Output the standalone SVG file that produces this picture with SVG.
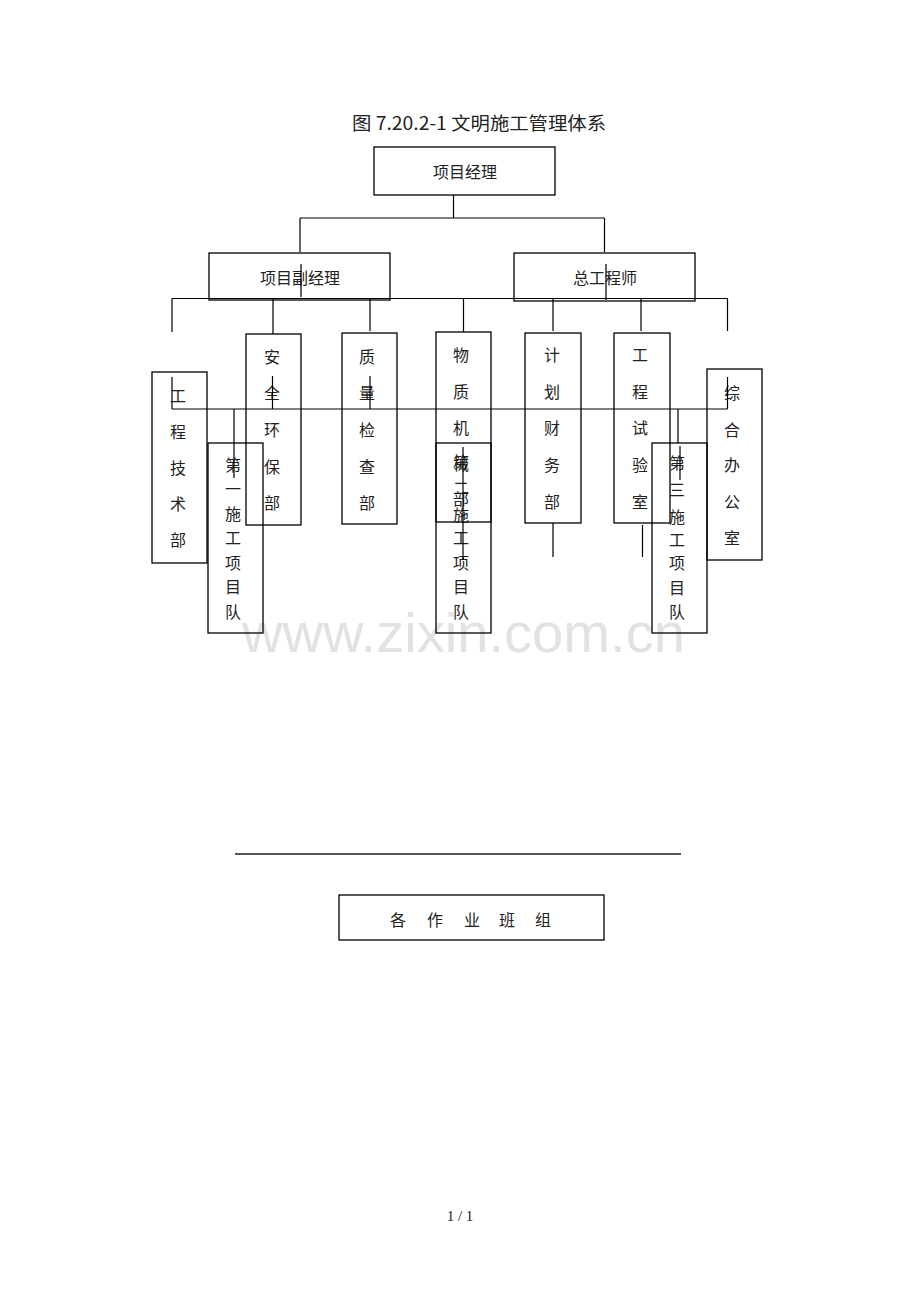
<svg xmlns="http://www.w3.org/2000/svg" width="920" height="1302" viewBox="0 0 920 1302">
<style>
.bg{fill:#ffffff}
.box{fill:none;stroke:#000;stroke-width:1.3}
.ln{stroke:#000;stroke-width:1.2;fill:none}
.t{font-family:"Noto Sans CJK SC","Noto Sans",sans-serif;font-size:16px;fill:#222;text-anchor:middle}
.title{font-family:"Noto Sans CJK SC","Noto Sans",sans-serif;font-size:18px;fill:#222}
.wm{font-family:"Liberation Sans",Arial,sans-serif;font-size:56px;fill:#e2e2e2}
.pg{font-family:"Liberation Serif","Times New Roman",serif;font-size:15px;fill:#222;text-anchor:middle}
</style>
<rect class="bg" x="0" y="0" width="920" height="1302"/>
<text class="wm" x="242" y="652" textLength="443" lengthAdjust="spacingAndGlyphs">www.zixin.com.cn</text>
<text class="title" x="352" y="130" textLength="254" lengthAdjust="spacingAndGlyphs">图 7.20.2-1 文明施工管理体系</text>

<g id="node-pm"><rect class="box" x="374" y="147" width="181" height="48"/><text class="t" x="465" y="178">项目经理</text></g>
<g id="node-dpm"><rect class="box" x="209" y="253" width="181" height="47"/><text class="t" x="300" y="284">项目副经理</text></g>
<g id="node-ce"><rect class="box" x="514" y="253" width="181" height="48"/><text class="t" x="605" y="284">总工程师</text></g>

<g id="node-gcjs"><rect class="box" x="152" y="372" width="55" height="191"/><text class="t"><tspan x="178" y="402">工</tspan><tspan x="178" y="438">程</tspan><tspan x="178" y="474">技</tspan><tspan x="178" y="510">术</tspan><tspan x="178" y="546">部</tspan></text></g>
<g id="node-aq"><rect class="box" x="246" y="334" width="55" height="191"/><text class="t"><tspan x="272" y="363">安</tspan><tspan x="272" y="399">全</tspan><tspan x="272" y="436">环</tspan><tspan x="272" y="473">保</tspan><tspan x="272" y="509">部</tspan></text></g>
<g id="node-zl"><rect class="box" x="342" y="333" width="55" height="191"/><text class="t"><tspan x="367" y="363">质</tspan><tspan x="367" y="399">量</tspan><tspan x="367" y="436">检</tspan><tspan x="367" y="473">查</tspan><tspan x="367" y="509">部</tspan></text></g>
<g id="node-wz"><rect class="box" x="436" y="332" width="55" height="190"/><text class="t"><tspan x="461" y="361">物</tspan><tspan x="461" y="398">质</tspan><tspan x="461" y="434">机</tspan><tspan x="461" y="470">械</tspan><tspan x="461" y="505">部</tspan></text></g>
<g id="node-jh"><rect class="box" x="525" y="333" width="56" height="190"/><text class="t"><tspan x="552" y="361">计</tspan><tspan x="552" y="398">划</tspan><tspan x="552" y="434">财</tspan><tspan x="552" y="471">务</tspan><tspan x="552" y="508">部</tspan></text></g>
<g id="node-sy"><rect class="box" x="614" y="333" width="56" height="190"/><text class="t"><tspan x="640" y="361">工</tspan><tspan x="640" y="398">程</tspan><tspan x="640" y="434">试</tspan><tspan x="640" y="471">验</tspan><tspan x="640" y="508">室</tspan></text></g>
<g id="node-zh"><rect class="box" x="707" y="369" width="55" height="191"/><text class="t"><tspan x="732" y="399">综</tspan><tspan x="732" y="436">合</tspan><tspan x="732" y="471">办</tspan><tspan x="732" y="508">公</tspan><tspan x="732" y="544">室</tspan></text></g>

<g id="node-d1"><rect class="box" x="208" y="443" width="55" height="190"/><text class="t"><tspan x="233" y="471">第</tspan><tspan x="233" y="495">一</tspan><tspan x="233" y="520">施</tspan><tspan x="233" y="544">工</tspan><tspan x="233" y="569">项</tspan><tspan x="233" y="593">目</tspan><tspan x="233" y="618">队</tspan></text></g>
<g id="node-d2"><rect class="box" x="436" y="443" width="55" height="190"/><text class="t"><tspan x="461" y="468">第</tspan><tspan x="461" y="494">二</tspan><tspan x="461" y="521">施</tspan><tspan x="461" y="544">工</tspan><tspan x="461" y="569">项</tspan><tspan x="461" y="593">目</tspan><tspan x="461" y="618">队</tspan></text></g>
<g id="node-d3"><rect class="box" x="652" y="443" width="55" height="190"/><text class="t"><tspan x="677" y="469">第</tspan><tspan x="677" y="496">三</tspan><tspan x="677" y="523">施</tspan><tspan x="677" y="546">工</tspan><tspan x="677" y="569">项</tspan><tspan x="677" y="594">目</tspan><tspan x="677" y="618">队</tspan></text></g>

<g id="node-bz"><rect class="box" x="339" y="895" width="265" height="45"/><text class="t"><tspan x="398" y="926">各</tspan><tspan x="435" y="926">作</tspan><tspan x="472" y="926">业</tspan><tspan x="507" y="926">班</tspan><tspan x="543" y="926">组</tspan></text></g>

<g id="connectors">
<path class="ln" d="M453.5 195V218M300 218H604.5M300 218V252M604.5 218V252"/>
<path class="ln" d="M301 264V297M606 264V300"/>
<path class="ln" d="M172 298.5H727.5"/>
<path class="ln" d="M172 298.5V332M273 298.5V334M370 298.5V331M463.5 298.5V332M553 298.5V331M641 298.5V331M727.5 298.5V331"/>
<path class="ln" d="M172 409H727.5"/>
<path class="ln" d="M172 377V409M272.5 376V409M370 376V409M727.5 377V409"/>
<path class="ln" d="M234 409V478M678 409V443M680 446V480"/>
<path class="ln" d="M463 447V560"/>
<path class="ln" d="M553 523V557M642.5 525V557"/>
<path d="M235 854H681" stroke="#555" stroke-width="2" fill="none"/>
</g>
<text class="pg" x="460" y="1221">1  / 1</text>
</svg>
